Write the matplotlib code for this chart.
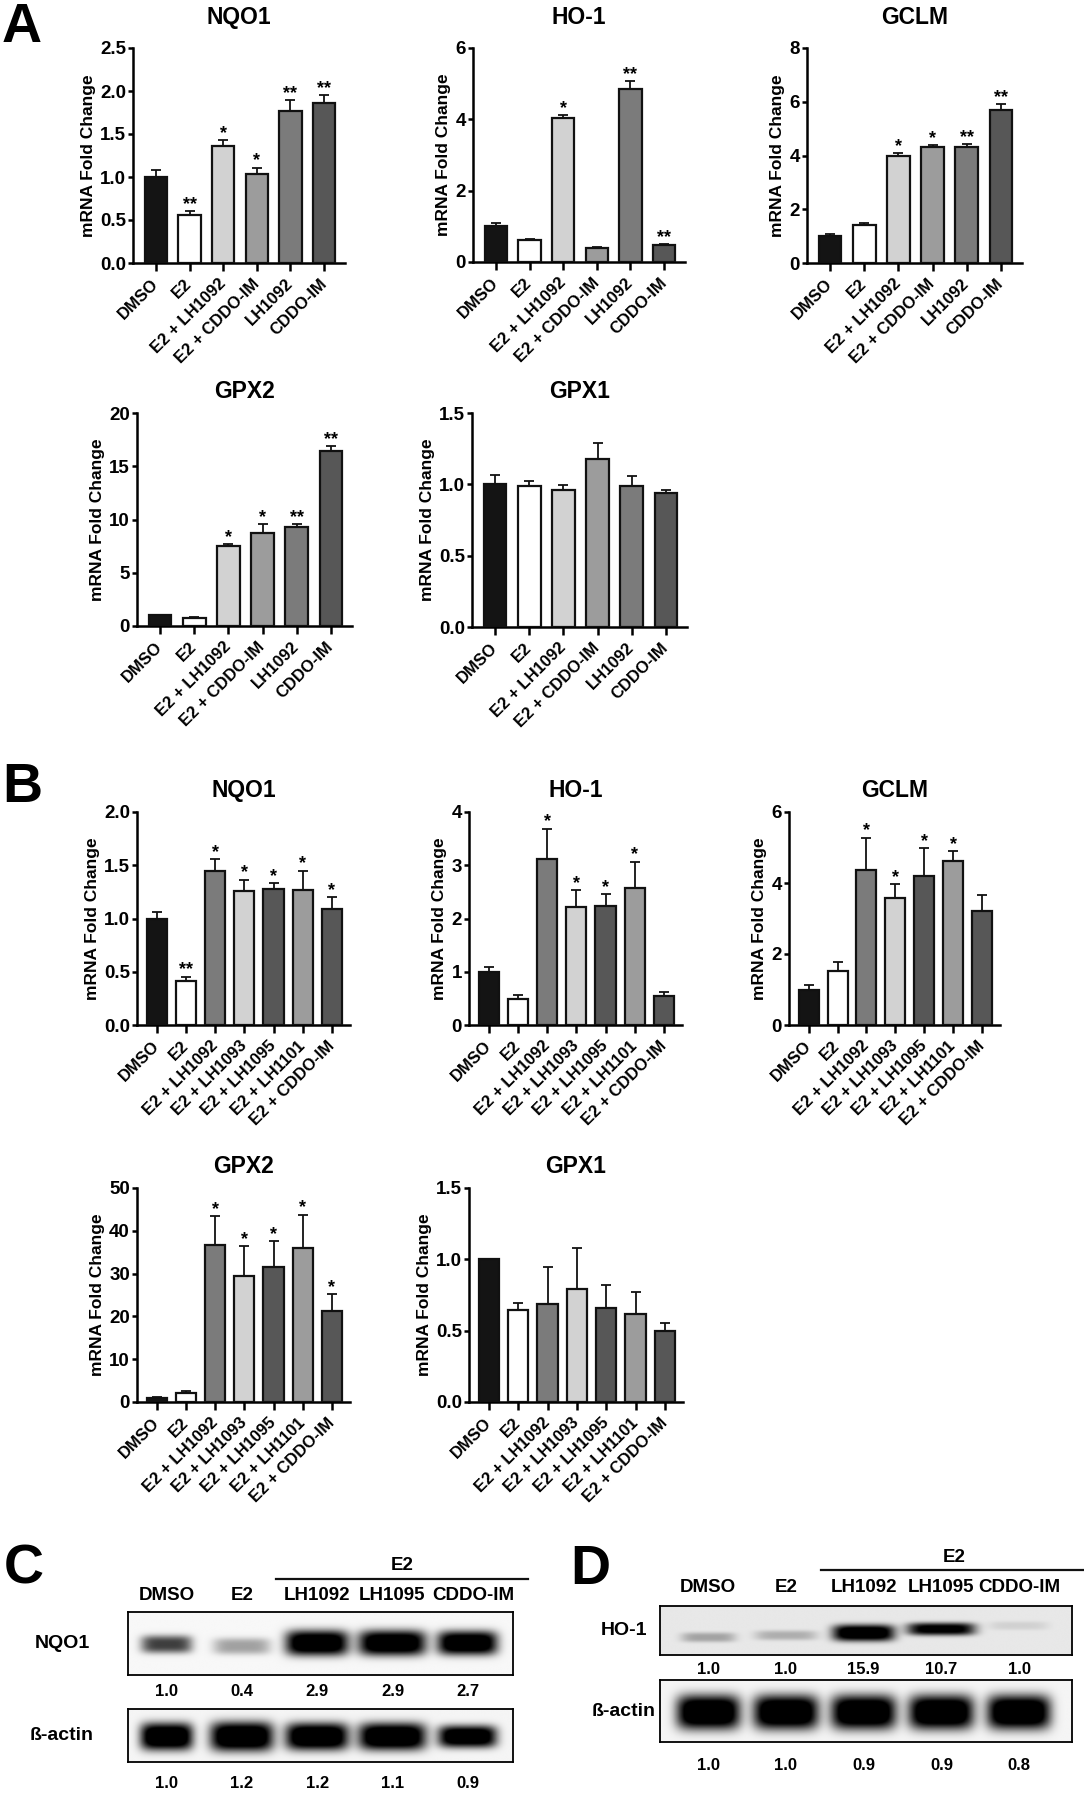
import numpy as np
import matplotlib.pyplot as plt
import matplotlib.transforms as mtransforms

plt.rcParams['font.family'] = ['Liberation Sans', 'DejaVu Sans']
plt.rcParams['font.weight'] = 'bold'
plt.rcParams['axes.labelweight'] = 'bold'
plt.rcParams['axes.titleweight'] = 'bold'

W, H = 1084, 1800

# ---- panel A: qPCR, 6 groups
groups_a = ['DMSO', 'E2', 'E2 + LH1092', 'E2 + CDDO-IM', 'LH1092', 'CDDO-IM']
colors_a = ['#141414', '#ffffff', '#d2d2d2', '#9c9c9c', '#7b7b7b', '#575757']

nqo1_a = [1.00, 0.56, 1.36, 1.03, 1.77, 1.86]
nqo1_a_err = [0.085, 0.045, 0.07, 0.08, 0.12, 0.09]
nqo1_a_sig = ['', '**', '*', '*', '**', '**']

ho1_a = [1.00, 0.63, 4.04, 0.40, 4.84, 0.47]
ho1_a_err = [0.08, 0.02, 0.09, 0.03, 0.24, 0.04]
ho1_a_sig = ['', '', '*', '', '**', '**']

gclm_a = [1.00, 1.41, 3.98, 4.30, 4.30, 5.68]
gclm_a_err = [0.07, 0.09, 0.10, 0.09, 0.13, 0.24]
gclm_a_sig = ['', '', '*', '*', '**', '**']

gpx2_a = [1.00, 0.74, 7.50, 8.70, 9.34, 16.45]
gpx2_a_err = [0.05, 0.06, 0.22, 0.90, 0.25, 0.42]
gpx2_a_sig = ['', '', '*', '*', '**', '**']

gpx1_a = [1.00, 0.985, 0.957, 1.18, 0.99, 0.937]
gpx1_a_err = [0.065, 0.04, 0.035, 0.11, 0.065, 0.025]
gpx1_a_sig = ['', '', '', '', '', '']

# ---- panel B: qPCR, 7 groups
groups_b = ['DMSO', 'E2', 'E2 + LH1092', 'E2 + LH1093', 'E2 + LH1095',
            'E2 + LH1101', 'E2 + CDDO-IM']
colors_b = ['#141414', '#ffffff', '#7b7b7b', '#d2d2d2', '#575757', '#9c9c9c', '#575757']

nqo1_b = [1.00, 0.41, 1.45, 1.26, 1.28, 1.27, 1.09]
nqo1_b_err = [0.065, 0.045, 0.11, 0.105, 0.05, 0.18, 0.11]
nqo1_b_sig = ['', '**', '*', '*', '*', '*', '*']

ho1_b = [1.00, 0.49, 3.11, 2.22, 2.23, 2.58, 0.55]
ho1_b_err = [0.08, 0.07, 0.58, 0.32, 0.23, 0.49, 0.07]
ho1_b_sig = ['', '', '*', '*', '*', '*', '']

gclm_b = [1.00, 1.52, 4.36, 3.59, 4.21, 4.62, 3.20]
gclm_b_err = [0.13, 0.25, 0.92, 0.38, 0.78, 0.28, 0.47]
gclm_b_sig = ['', '', '*', '*', '*', '*', '']

gpx2_b = [0.95, 2.19, 36.6, 29.4, 31.6, 35.9, 21.2]
gpx2_b_err = [0.15, 0.45, 6.8, 7.1, 6.0, 7.9, 4.1]
gpx2_b_sig = ['', '', '*', '*', '*', '*', '*']

gpx1_b = [1.00, 0.645, 0.69, 0.795, 0.66, 0.62, 0.50]
gpx1_b_err = [0.005, 0.05, 0.255, 0.285, 0.16, 0.15, 0.055]
gpx1_b_sig = ['', '', '', '', '', '', '']

# ---- panels C / D: western blots
blot_lanes = ['DMSO', 'E2', 'LH1092', 'LH1095', 'CDDO-IM']
c_nqo1_quant = [1.0, 0.4, 2.9, 2.9, 2.7]
c_actin_quant = [1.0, 1.2, 1.2, 1.1, 0.9]
d_ho1_quant = [1.0, 1.0, 15.9, 10.7, 1.0]
d_actin_quant = [1.0, 1.0, 0.9, 0.9, 0.8]

# band darkness, half width (lanes), centre (box fraction), half thickness
c_nqo1_band = [0.75, 0.35, 1.25, 1.25, 1.25]
c_nqo1_w = [0.34, 0.38, 0.42, 0.45, 0.40]
c_nqo1_y = [0.52, 0.55, 0.50, 0.50, 0.50]
c_nqo1_t = [0.14, 0.13, 0.20, 0.20, 0.19]
c_actin_band = [1.3, 1.3, 1.3, 1.3, 1.25]
c_actin_w = [0.35, 0.42, 0.42, 0.45, 0.39]
c_actin_y = [0.52, 0.52, 0.52, 0.52, 0.52]
c_actin_t = [0.26, 0.28, 0.26, 0.26, 0.21]
d_ho1_band = [0.3, 0.25, 1.25, 1.1, 0.1]
d_ho1_w = [0.35, 0.40, 0.40, 0.44, 0.38]
d_ho1_y = [0.64, 0.60, 0.55, 0.47, 0.40]
d_ho1_t = [0.10, 0.10, 0.17, 0.13, 0.09]
d_actin_band = [1.3, 1.3, 1.3, 1.3, 1.3]
d_actin_w = [0.41, 0.42, 0.42, 0.42, 0.41]
d_actin_y = [0.52, 0.52, 0.52, 0.52, 0.52]
d_actin_t = [0.28, 0.28, 0.28, 0.28, 0.28]

fig = plt.figure(figsize=(W / 100, H / 100), dpi=100)


def px_axes(x0, y0, x1, y1):
    return fig.add_axes([x0 / W, 1 - y1 / H, (x1 - x0) / W, (y1 - y0) / H])


def bar_panel(box, title, labels, colors, vals, errs, sig, ymax, ystep, fmt, tpad, width):
    ax = px_axes(*box)
    n = len(vals)
    x = np.arange(n)
    ax.bar(x, vals, width=width, color=colors, edgecolor='#111111', linewidth=1.6, zorder=3)
    ax.errorbar(x, vals, yerr=[np.zeros(n), errs], fmt='none', ecolor='#111111',
                elinewidth=1.3, capsize=3.6, capthick=1.3, zorder=2)
    for i, s in enumerate(sig):
        if s:
            ax.annotate(s, (i, vals[i] + errs[i]), xytext=(0, 1.5), textcoords='offset points',
                        ha='center', va='baseline', fontsize=13)
    ax.set_xlim(-0.68, n - 1 + 0.62)
    ax.set_ylim(0, ymax)
    ticks = np.arange(0, ymax + ystep / 2, ystep)
    ax.set_yticks(ticks)
    ax.set_yticklabels([fmt.format(t) for t in ticks])
    ax.set_xticks(x)
    ax.set_xticklabels(labels, rotation=45, ha='right', va='center', rotation_mode='anchor')
    for s in ['top', 'right']:
        ax.spines[s].set_visible(False)
    for s in ['left', 'bottom']:
        ax.spines[s].set_linewidth(1.8)
    ax.tick_params(axis='y', length=3.6, width=1.8, pad=1.5, labelsize=13.5)
    ax.tick_params(axis='x', length=5.8, width=1.8, pad=7.5, labelsize=12)
    ax.set_ylabel('mRNA Fold Change', fontsize=12.5, labelpad=3)
    ax.set_title(title, fontsize=16.5, pad=tpad)
    return ax


wa, wb = 0.66, 0.69
bar_panel((133, 48, 345, 263), 'NQO1', groups_a, colors_a, nqo1_a, nqo1_a_err, nqo1_a_sig, 2.5, 0.5, '{:.1f}', 17, wa)
bar_panel((473, 48, 685, 262), 'HO-1', groups_a, colors_a, ho1_a, ho1_a_err, ho1_a_sig, 6, 2, '{:.0f}', 17, wa)
bar_panel((807, 48, 1022, 263), 'GCLM', groups_a, colors_a, gclm_a, gclm_a_err, gclm_a_sig, 8, 2, '{:.0f}', 17, wa)
bar_panel((137, 413, 352, 626), 'GPX2', groups_a, colors_a, gpx2_a, gpx2_a_err, gpx2_a_sig, 20, 5, '{:.0f}', 10.5, wa)
bar_panel((472, 413, 687, 627), 'GPX1', groups_a, colors_a, gpx1_a, gpx1_a_err, gpx1_a_sig, 1.5, 0.5, '{:.1f}', 10.5, wa)

bar_panel((137, 812, 350, 1025), 'NQO1', groups_b, colors_b, nqo1_b, nqo1_b_err, nqo1_b_sig, 2.0, 0.5, '{:.1f}', 10.5, wb)
bar_panel((469, 812, 682, 1025), 'HO-1', groups_b, colors_b, ho1_b, ho1_b_err, ho1_b_sig, 4, 1, '{:.0f}', 10.5, wb)
bar_panel((789, 812, 1000, 1025), 'GCLM', groups_b, colors_b, gclm_b, gclm_b_err, gclm_b_sig, 6, 2, '{:.0f}', 10.5, wb)
bar_panel((137, 1188, 350, 1402), 'GPX2', groups_b, colors_b, gpx2_b, gpx2_b_err, gpx2_b_sig, 50, 10, '{:.0f}', 10.5, wb)
bar_panel((469, 1188, 683, 1402), 'GPX1', groups_b, colors_b, gpx1_b, gpx1_b_err, gpx1_b_sig, 1.5, 0.5, '{:.1f}', 10.5, wb)


def blot(box, xlim, amps, widths, ycen, thick, bg):
    ax = px_axes(*box)
    xs = np.linspace(xlim[0], xlim[1], 500)
    ys = np.linspace(0, 1, 100)
    X, Y = np.meshgrid(xs, ys)
    dark = np.zeros_like(X)
    for i in range(len(amps)):
        dark += amps[i] * np.exp(-np.abs((X - i) / widths[i]) ** 5) \
            * np.exp(-np.abs((Y - ycen[i]) / thick[i]) ** 3)
    img = bg * (1 - np.clip(dark, 0, 1))
    ax.imshow(img, cmap='gray', vmin=0, vmax=1, extent=(xlim[0], xlim[1], 1, 0),
              aspect='auto', interpolation='bilinear')
    ax.set_xlim(xlim)
    ax.set_ylim(1, 0)
    ax.set_xticks([])
    ax.set_yticks([])
    for s in ax.spines.values():
        s.set_linewidth(1.3)
    return ax


def blot_panel(x0, x1, xlim, y_head, y_line, y_lanes, box1, y_q1, box2, y_q2, label_x,
               name, b1, b2, q1, q2, bg1, last_flush):
    ax1 = blot((x0, box1[0], x1, box1[1]), xlim, *b1, bg1)
    ax2 = blot((x0, box2[0], x1, box2[1]), xlim, *b2, 0.96)
    tr = mtransforms.blended_transform_factory(ax1.transData, fig.transFigure)
    line_x = [1.45, xlim[1] + 0.2]
    ax1.plot(line_x, [1 - y_line / H] * 2, transform=tr, color='#111111', lw=1.6, clip_on=False)
    ax1.text(np.mean(line_x), 1 - y_head / H, 'E2', transform=tr, ha='center', va='center', fontsize=13.5)
    for i, lab in enumerate(blot_lanes):
        if last_flush and i == len(blot_lanes) - 1:
            # last lane label sits flush with the right edge of the blot
            ax1.text(xlim[1] + 0.02, 1 - y_lanes / H, lab, transform=tr, ha='right', va='center', fontsize=13.5)
        else:
            ax1.text(i, 1 - y_lanes / H, lab, transform=tr, ha='center', va='center', fontsize=13.5)
        ax1.text(i, 1 - y_q1 / H, f'{q1[i]:.1f}', transform=tr, ha='center', va='center', fontsize=12)
        ax1.text(i, 1 - y_q2 / H, f'{q2[i]:.1f}', transform=tr, ha='center', va='center', fontsize=12)
    fig.text(label_x / W, 1 - (box1[0] + box1[1]) / 2 / H, name, ha='center', va='center', fontsize=14)
    fig.text(label_x / W, 1 - (box2[0] + box2[1]) / 2 / H, 'ß-actin', ha='center', va='center', fontsize=14)


blot_panel(128, 513, (-0.51, 4.6), 1566, 1579, 1595, (1612, 1675), 1691, (1709, 1762), 1783, 62,
           'NQO1',
           (c_nqo1_band, c_nqo1_w, c_nqo1_y, c_nqo1_t),
           (c_actin_band, c_actin_w, c_actin_y, c_actin_t),
           c_nqo1_quant, c_actin_quant, 0.97, True)
blot_panel(660, 1072, (-0.62, 4.68), 1557, 1570, 1588, (1606, 1655), 1669, (1680, 1742), 1766, 624,
           'HO-1',
           (d_ho1_band, d_ho1_w, d_ho1_y, d_ho1_t),
           (d_actin_band, d_actin_w, d_actin_y, d_actin_t),
           d_ho1_quant, d_actin_quant, 0.91, False)

for letter, lx, ly in [('A', 2, 42), ('B', 2, 802), ('C', 4, 1584), ('D', 570, 1584)]:
    fig.text(lx / W, 1 - ly / H, letter, ha='left', va='baseline', fontsize=40)

fig.savefig('out.png', dpi=100, facecolor='white')
